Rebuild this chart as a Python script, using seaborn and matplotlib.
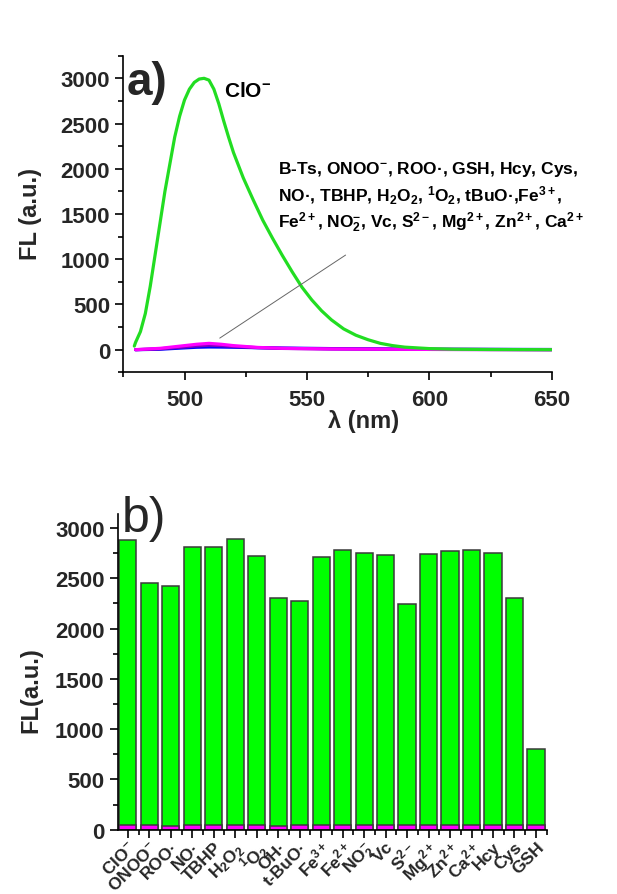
import numpy as np
import pandas as pd
import matplotlib
matplotlib.use('Agg')
import matplotlib.pyplot as plt
import seaborn as sns
from matplotlib.ticker import MultipleLocator

# ---------------- data: panel a (emission spectra) ----------------
wl_clo = [479.5, 480, 482, 484, 486, 488, 490, 492, 494, 496, 498, 500, 502, 504, 506, 508,
          510, 512, 514, 516, 518, 520, 524, 528, 532, 536, 540, 544, 548, 552, 556, 560,
          565, 570, 575, 580, 585, 590, 600, 610, 625, 650]
fl_clo = [40, 80, 200, 400, 700, 1050, 1400, 1750, 2050, 2350, 2580, 2760, 2880, 2955, 2992, 3000,
          2980, 2880, 2720, 2530, 2350, 2180, 1900, 1660, 1430, 1230, 1040, 860, 690, 550, 430, 330,
          230, 160, 110, 70, 45, 28, 12, 5, 2, 0]

wl_low = [480, 490, 500, 505, 510, 515, 520, 530, 540, 560, 600, 650]
fl_magenta = [0, 15, 45, 60, 70, 60, 45, 25, 15, 8, 3, 0]
fl_purple = [0, 10, 30, 42, 50, 45, 35, 22, 14, 8, 3, 0]
fl_blue = [0, 5, 20, 27, 30, 29, 27, 22, 18, 12, 5, 2]

# ---------------- data: panel b (bar chart) ----------------
analytes = [r'ClO$^{-}$', r'ONOO$^{-}$', 'ROO·', 'NO·', 'TBHP', r'H$_{2}$O$_{2}$',
            r'$^{1}$O$_{2}$', 'OH·', 't-BuO·', r'Fe$^{3+}$', r'Fe$^{2+}$', r'NO$_{2}^{-}$',
            'Vc', r'S$^{2-}$', r'Mg$^{2+}$', r'Zn$^{2+}$', r'Ca$^{2+}$', 'Hcy', 'Cys', 'GSH']
fl_with_clo = [2878, 2455, 2426, 2812, 2812, 2891, 2726, 2307, 2274, 2710,
               2785, 2749, 2736, 2241, 2742, 2769, 2785, 2752, 2300, 805]
fl_blank = [45, 42, 40, 50, 42, 48, 50, 35, 42, 50,
            50, 50, 50, 45, 50, 50, 50, 42, 42, 42]

# ---------------- style ----------------
sns.set_theme(style='ticks')
plt.rcParams['font.family'] = ['Liberation Sans', 'DejaVu Sans']
plt.rcParams['font.weight'] = 'bold'
plt.rcParams['mathtext.fontset'] = 'custom'
plt.rcParams['mathtext.rm'] = 'Liberation Sans:bold'
plt.rcParams['mathtext.it'] = 'Liberation Sans:bold'
plt.rcParams['mathtext.bf'] = 'Liberation Sans:bold'
plt.rcParams['mathtext.sf'] = 'Liberation Sans:bold'

fig = plt.figure(figsize=(6.17, 8.95), dpi=100)
W, H = 617, 895
ax1 = fig.add_axes([123.3 / W, 1 - 373.3 / H, (551.7 - 123.3) / W, (373.3 - 56.7) / H])
ax2 = fig.add_axes([117.7 / W, 1 - 830.7 / H, (546.7 - 117.7) / W, (830.7 - 515) / H])

# ---------------- panel a ----------------
df_lines = pd.concat([
    pd.DataFrame({'wl': wl_low, 'FL': fl_blue, 'series': 'blue'}),
    pd.DataFrame({'wl': wl_low, 'FL': fl_purple, 'series': 'purple'}),
    pd.DataFrame({'wl': wl_low, 'FL': fl_magenta, 'series': 'magenta'}),
    pd.DataFrame({'wl': wl_clo, 'FL': fl_clo, 'series': 'ClO'}),
], ignore_index=True)
palette = {'ClO': '#22dd22', 'magenta': '#ff00ff', 'purple': '#8000c0', 'blue': '#0000ff'}
sns.lineplot(data=df_lines, x='wl', y='FL', hue='series', palette=palette,
             estimator=None, legend=False, linewidth=2.3, ax=ax1)

ax1.set_xlim(475, 650)
ax1.set_ylim(-250, 3250)
ax1.xaxis.set_major_locator(MultipleLocator(50))
ax1.xaxis.set_minor_locator(MultipleLocator(25))
ax1.yaxis.set_major_locator(MultipleLocator(500))
ax1.yaxis.set_minor_locator(MultipleLocator(250))

ax1.plot([514.4, 565.8], [128, 1046], color='#666666', lw=0.7)
ax1.text(516, 2860, r'ClO$^{-}$', fontsize=15, va='center', color='black')
ann_lines = [r'B-Ts, ONOO$^{-}$, ROO·, GSH, Hcy, Cys,',
             r'NO·, TBHP, H$_{2}$O$_{2}$, $^{1}$O$_{2}$, tBuO·,Fe$^{3+}$,',
             r'Fe$^{2+}$, NO$_{2}^{-}$, Vc, S$^{2-}$, Mg$^{2+}$, Zn$^{2+}$, Ca$^{2+}$']
for txt, yv in zip(ann_lines, [2000, 1707, 1413]):
    ax1.text(538.2, yv, txt, fontsize=12.5, va='center', color='black')
ax1.text(0.008, 0.985, 'a)', transform=ax1.transAxes, fontsize=33, fontweight='bold',
         va='top', ha='left')

ax1.set_xlabel('λ (nm)', fontsize=17, fontweight='bold')
ax1.set_ylabel('FL (a.u.)', fontsize=17, fontweight='bold')
ax1.xaxis.set_label_coords(0.561, -0.115)
ax1.yaxis.set_label_coords(-0.19, 0.503)

# ---------------- panel b ----------------
df_bar = pd.DataFrame({'analyte': analytes, 'FL': fl_with_clo, 'blank': fl_blank})
sns.barplot(data=df_bar, x='analyte', y='FL', order=analytes, color='#00ff00',
            saturation=1, width=0.8, edgecolor='#3a3a3a', linewidth=1.1, ax=ax2)
sns.barplot(data=df_bar, x='analyte', y='blank', order=analytes, color='#ff00ff',
            saturation=1, width=0.8, edgecolor='#3a3a3a', linewidth=1.1, ax=ax2)

ax2.set_xlim(-0.47, 19.5)
ax2.set_ylim(0, 3140)
ax2.yaxis.set_major_locator(MultipleLocator(500))
ax2.yaxis.set_minor_locator(MultipleLocator(250))
ax2.xaxis.set_minor_locator(MultipleLocator(1, offset=0.5))
ax2.set_xticks(range(len(analytes)))
ax2.set_xticklabels(analytes, rotation=45, ha='right', rotation_mode='anchor', fontsize=12.5,
                    fontweight='bold')
ax2.set_xlabel('')
ax2.set_ylabel('FL(a.u.)', fontsize=17, fontweight='bold')
ax2.yaxis.set_label_coords(-0.176, 0.446)
ax2.text(0.01, 1.06, 'b)', transform=ax2.transAxes, fontsize=36, fontweight='normal',
         va='top', ha='left')

for ax in (ax1, ax2):
    for s in ('top', 'right'):
        ax.spines[s].set_visible(False)
    for s in ('left', 'bottom'):
        ax.spines[s].set_linewidth(1.2)
        ax.spines[s].set_color('black')
    ax.tick_params(which='major', direction='out', length=6, width=1.2, color='black')
    ax.tick_params(which='minor', direction='out', length=3.5, width=1.2, color='black')
    ax.tick_params(axis='y', labelsize=16)
    for lab in ax.get_yticklabels():
        lab.set_fontweight('bold')
ax1.tick_params(axis='x', labelsize=16, pad=6)
for lab in ax1.get_xticklabels():
    lab.set_fontweight('bold')
ax2.tick_params(axis='x', which='major', pad=0.5)

fig.savefig('out.png', dpi=100, facecolor='white')
